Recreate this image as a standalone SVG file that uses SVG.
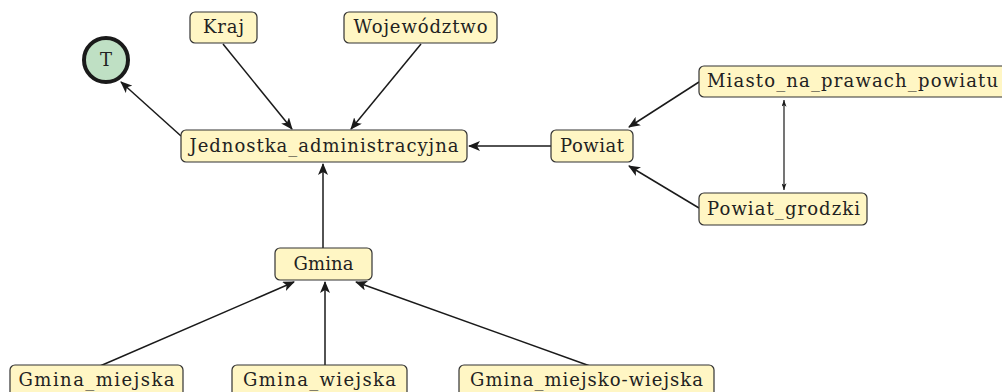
<svg xmlns="http://www.w3.org/2000/svg" width="1002" height="392" viewBox="0 0 1002 392">
<style>
.box{fill:#fff6c4;stroke:#333;stroke-width:1.2}
.lbl{font-family:"DejaVu Serif","Liberation Serif",serif;font-size:18px;fill:#222;text-anchor:middle}
.e{stroke:#1a1a1a;stroke-width:1.5;fill:none;marker-end:url(#ah)}
.e2{stroke:#1a1a1a;stroke-width:1.2;fill:none;marker-start:url(#sa);marker-end:url(#sa)}
</style>
<defs>
<marker id="ah" viewBox="0 0 12 10" refX="11" refY="5" markerWidth="12" markerHeight="10" markerUnits="userSpaceOnUse" orient="auto-start-reverse">
<path d="M0,0 L12,5 L0,10 L3,5 Z" fill="#1a1a1a"/>
</marker>
<marker id="sa" viewBox="0 0 8 6" refX="8" refY="3" markerWidth="7" markerHeight="5" markerUnits="userSpaceOnUse" orient="auto-start-reverse">
<path d="M0,0 L8,3 L0,6 L2,3 Z" fill="#1a1a1a"/>
</marker>
</defs>
<g id="connectors">
<line class="e" x1="181" y1="136" x2="121" y2="82"/>
<line class="e" x1="223" y1="44" x2="292" y2="129"/>
<line class="e" x1="421" y1="44" x2="351" y2="129"/>
<line class="e" x1="551" y1="146" x2="469" y2="146"/>
<line class="e" x1="699" y1="82" x2="629" y2="127"/>
<line class="e" x1="699" y1="208" x2="629" y2="166"/>
<line class="e2" x1="784" y1="100" x2="784" y2="190"/>
<line class="e" x1="323" y1="248" x2="323" y2="164"/>
<line class="e" x1="100" y1="366" x2="294" y2="282"/>
<line class="e" x1="325" y1="366" x2="325" y2="282"/>
<line class="e" x1="590" y1="366" x2="356" y2="282"/>
</g>
<g id="T">
<circle cx="106" cy="60" r="22" fill="#bfe0c4" stroke="#1a1a1a" stroke-width="4"/>
<text class="lbl" x="106" y="66">T</text>
</g>
<g id="Kraj">
<rect class="box" x="190" y="12" width="67" height="31" rx="5"/>
<text class="lbl" x="223.5" y="33" textLength="41">Kraj</text>
</g>
<g id="Wojewodztwo">
<rect class="box" x="344" y="12" width="153" height="31" rx="5"/>
<text class="lbl" x="420.5" y="33" textLength="134">Województwo</text>
</g>
<g id="Jednostka_administracyjna">
<rect class="box" x="181" y="130" width="286" height="32" rx="5"/>
<text class="lbl" x="324" y="152" textLength="269">Jednostka_administracyjna</text>
</g>
<g id="Powiat">
<rect class="box" x="551" y="130" width="82" height="32" rx="5"/>
<text class="lbl" x="592" y="152" textLength="64">Powiat</text>
</g>
<g id="Miasto_na_prawach_powiatu">
<rect class="box" x="699" y="66" width="310" height="31" rx="5"/>
<text class="lbl" x="852.5" y="87" textLength="291">Miasto_na_prawach_powiatu</text>
</g>
<g id="Powiat_grodzki">
<rect class="box" x="699" y="193" width="168" height="32" rx="5"/>
<text class="lbl" x="783.5" y="215" textLength="153">Powiat_grodzki</text>
</g>
<g id="Gmina">
<rect class="box" x="275" y="248" width="97" height="32" rx="5"/>
<text class="lbl" x="323.5" y="270" textLength="60">Gmina</text>
</g>
<g id="Gmina_miejska">
<rect class="box" x="10" y="365" width="173" height="34" rx="5"/>
<text class="lbl" x="96.5" y="386" textLength="156">Gmina_miejska</text>
</g>
<g id="Gmina_wiejska">
<rect class="box" x="232" y="365" width="175" height="34" rx="5"/>
<text class="lbl" x="319.5" y="386" textLength="153">Gmina_wiejska</text>
</g>
<g id="Gmina_miejsko-wiejska">
<rect class="box" x="459" y="365" width="255" height="34" rx="5"/>
<text class="lbl" x="586.5" y="386" textLength="233">Gmina_miejsko-wiejska</text>
</g>
</svg>
